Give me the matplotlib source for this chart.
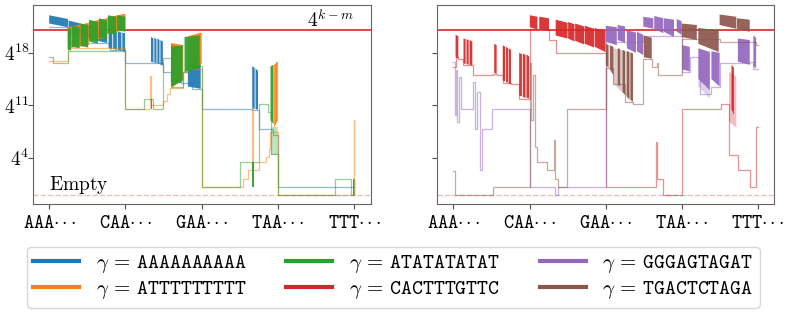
import numpy as np
import matplotlib.pyplot as plt
from matplotlib.lines import Line2D

plt.rcParams["mathtext.fontset"] = "cm"
plt.rcParams["font.family"] = "serif"

# x axis: position of the k-mer in lexicographic order (fraction of 4^k)
kmer_ticks = [0.0, 0.25, 0.5, 0.75, 1.0]
kmer_labels = ["AAA", "CAA", "GAA", "TAA", "TTT"]
ytick_log4 = [4, 11, 18]
km_level_log4 = 21      # 4^{k-m}
empty_level_log4 = -1   # "Empty"

# ---- values, all y given as log4 --------------------------------------------
# thin step lines: breakpoints (x, log4 value), steps-post
# dense blocks: (x0, x1, top0, top1, bottom0, bottom1)
# sparse blocks: same layout, teeth that only partly fill the area

a10_x = [0, 0.061, 0.20, 0.25, 0.334, 0.374, 0.40, 0.433, 0.467, 0.5, 0.666, 0.688, 0.734, 0.751, 1.0]
a10_e = [21.4, 19.3, 18.4, 16.6, 16.6, 15.5, 14.1, 14.0, 13.2, 10.5, 10.4, 7.9, 7.0, 0.05, 0.05]
a10_blocks = [
    (0.000, 0.062, 23.0, 22.5, 21.9, 21.4),
    (0.064, 0.190, 22.3, 21.0, 20.5, 19.3),
    (0.195, 0.207, 20.9, 20.8, 18.6, 18.5),
    (0.210, 0.222, 20.85, 20.75, 18.5, 18.4),
    (0.225, 0.237, 20.8, 20.7, 18.4, 18.3),
    (0.240, 0.249, 20.7, 20.6, 18.3, 18.1),
    (0.334, 0.342, 20.1, 19.9, 16.8, 16.7),
    (0.345, 0.352, 20.0, 19.8, 16.7, 16.6),
    (0.355, 0.362, 19.9, 19.7, 16.6, 16.5),
    (0.365, 0.373, 19.7, 19.5, 16.4, 16.3),
    (0.400, 0.410, 19.2, 19.0, 14.3, 14.2),
    (0.413, 0.422, 19.0, 18.8, 14.2, 14.1),
    (0.425, 0.433, 18.8, 18.6, 14.1, 14.0),
    (0.455, 0.497, 17.5, 17.2, 13.5, 13.2),
    (0.666, 0.674, 16.2, 16.0, 10.6, 10.5),
    (0.677, 0.685, 15.9, 15.6, 10.5, 10.4),
]
a10_sparse = []

at9_x = [0, 0.061, 0.25, 0.331, 0.334, 0.373, 0.385, 0.398, 0.44, 0.455, 0.5, 0.637, 0.652,
         0.665, 0.668, 0.689, 0.71, 0.72, 0.726, 0.75, 0.999, 1.0]
at9_e = [16.9, 18.6, 10.5, 14.9, 11.1, 11.6, 12.5, 13.3, 15.5, 15.8, 0.05, 1.2, 2.4,
         10.6, 2.4, 3.5, 4.1, 5.2, 7.5, -1, 9.0, -1]
at9_blocks = [
    (0.061, 0.130, 21.4, 22.0, 18.6, 19.0),
    (0.130, 0.190, 22.1, 22.6, 19.6, 20.0),
    (0.190, 0.250, 22.7, 23.2, 20.5, 21.0),
    (0.402, 0.440, 19.3, 19.0, 13.3, 14.5),
    (0.455, 0.500, 20.2, 20.7, 15.5, 16.5),
    (0.738, 0.750, 16.4, 16.9, 8.0, 9.0),
]
at9_sparse = []

atat_x = [0, 0.012, 0.061, 0.25, 0.31, 0.342, 0.373, 0.40, 0.44, 0.455, 0.5, 0.625, 0.689,
          0.718, 0.728, 0.75, 0.937, 0.99, 0.999, 1.0]
atat_e = [17.5, 16.7, 18.2, 10.5, 11.8, 10.5, 17.3, 13.5, 15.4, 16.2, 0.05, 3.4, 11.2,
          10.1, 4.5, -1, 1.2, -1, 1.2, -1]
atat_blocks = [
    (0.061, 0.072, 21.3, 21.2, 18.4, 18.3),
    (0.075, 0.100, 21.6, 21.4, 18.8, 18.6),
    (0.103, 0.128, 21.9, 21.7, 18.9, 18.7),
    (0.131, 0.160, 22.4, 22.1, 19.5, 19.2),
    (0.163, 0.190, 22.6, 22.3, 20.0, 19.8),
    (0.193, 0.220, 23.0, 22.8, 20.6, 20.4),
    (0.223, 0.250, 23.0, 22.8, 21.0, 20.8),
    (0.333, 0.338, 11.8, 11.8, 10.5, 10.5),
    (0.400, 0.438, 18.8, 19.0, 13.5, 14.2),
    (0.444, 0.494, 20.1, 20.3, 15.4, 16.0),
    (0.664, 0.671, 3.4, 3.4, 0.05, 0.05),
    (0.726, 0.736, 16.2, 16.4, 9.0, 8.5),
    (0.997, 1.000, 1.2, 1.2, -1, -1),
]
atat_sparse = [
    (0.728, 0.750, 8.1, 8.1, 4.4, 4.4),
]

cac_x = [0, 0.007, 0.016, 0.033, 0.063, 0.129, 0.134, 0.143, 0.162, 0.189, 0.216, 0.25, 0.314,
         0.336, 0.5, 0.666, 0.669, 0.69, 0.752, 0.881, 0.906, 0.935, 0.974, 0.996, 1.0]
cac_e = [16.1, 17.4, 17.2, 16.4, 15.0, 15.2, 15.2, 15.1, 14.0, 13.8, 11.9, 21.2, 19.7,
         18.0, 0.05, 6.1, 1.2, -1, 10.5, 11.2, 4.4, 2.4, 0.05, 8.1, 8.1]
cac_blocks = [
    (0.007, 0.016, 20.4, 20.2, 17.4, 17.2),
    (0.033, 0.040, 19.9, 19.8, 16.6, 16.5),
    (0.043, 0.050, 19.8, 19.7, 16.5, 16.4),
    (0.053, 0.062, 19.7, 19.5, 16.4, 16.3),
    (0.134, 0.142, 19.2, 19.0, 15.3, 15.2),
    (0.162, 0.170, 19.0, 18.8, 14.3, 14.2),
    (0.173, 0.180, 18.8, 18.6, 14.1, 14.0),
    (0.182, 0.189, 18.6, 18.4, 13.9, 13.8),
    (0.216, 0.225, 18.0, 17.8, 12.3, 12.2),
    (0.228, 0.237, 17.9, 17.7, 12.1, 12.0),
    (0.240, 0.249, 17.8, 17.5, 12.0, 11.9),
    (0.251, 0.276, 23.0, 22.8, 21.4, 21.1),
    (0.282, 0.314, 22.8, 22.6, 21.2, 20.9),
    (0.336, 0.375, 22.4, 22.0, 20.3, 19.9),
    (0.377, 0.398, 22.1, 21.8, 19.9, 19.5),
    (0.400, 0.430, 21.9, 21.5, 19.6, 19.1),
    (0.432, 0.462, 21.6, 21.2, 19.2, 18.7),
    (0.464, 0.500, 21.3, 20.9, 18.8, 18.1),
    (0.914, 0.922, 16.4, 16.0, 10.5, 9.7),
]
cac_sparse = [
    (0.906, 0.930, 15.5, 14.8, 8.8, 8.0),
]

ggg_x = [0, 0.004, 0.008, 0.013, 0.018, 0.025, 0.063, 0.070, 0.078, 0.087, 0.094, 0.126, 0.251,
         0.333, 0.344, 0.5, 0.624, 0.75, 0.777, 0.809, 0.848, 0.875, 0.935, 0.974, 0.986, 1.0]
ggg_e = [16.8, 9.7, 15.7, 8.8, 14.8, 10.5, 14.1, 7.9, 12.8, 2.4, 7.9, 10.5, 0.05,
         -1, 0.05, 19.5, 20.2, 15.5, 17.5, 12.5, 13.5, 16.6, 16.6, 16.8, 15.9, 15.9]
ggg_blocks = [
    (0.501, 0.537, 21.6, 21.4, 19.5, 19.0),
    (0.540, 0.564, 21.7, 21.5, 19.7, 19.3),
    (0.570, 0.600, 21.0, 20.7, 18.6, 18.0),
    (0.603, 0.624, 20.8, 20.4, 18.2, 17.7),
    (0.624, 0.657, 22.8, 22.6, 21.5, 21.2),
    (0.660, 0.690, 22.9, 22.6, 21.2, 20.6),
    (0.692, 0.725, 22.6, 22.4, 20.8, 20.1),
    (0.734, 0.750, 22.5, 22.2, 20.8, 20.4),
    (0.752, 0.777, 19.0, 18.8, 15.8, 15.5),
    (0.805, 0.843, 18.6, 18.1, 14.5, 13.0),
    (0.848, 0.875, 18.2, 18.0, 14.5, 13.5),
    (0.935, 0.974, 19.9, 19.7, 16.8, 16.4),
    (0.986, 0.995, 20.3, 20.0, 16.2, 15.9),
]
ggg_sparse = [
    (0.805, 0.843, 14.5, 13.0, 13.5, 11.9),
]

tga_x = [0, 0.006, 0.129, 0.251, 0.256, 0.262, 0.268, 0.273, 0.309, 0.332, 0.335, 0.344, 0.374,
         0.5, 0.526, 0.564, 0.591, 0.624, 0.652, 0.668, 0.673, 0.75, 0.875, 0.974, 0.996, 1.0]
tga_e = [2.3, -1, 0.05, 16.6, 9.0, 15.0, 5.5, 3.5, 2.4, 6.4, 1.2, 0.05, 10.5,
         16.0, 13.9, 11.5, 11.2, 17.2, 16.1, 16.6, 15.0, 19.8, 19.5, 19.5, 19.1, 19.1]
tga_blocks = [
    (0.501, 0.510, 19.2, 19.0, 16.4, 16.0),
    (0.514, 0.526, 19.0, 18.8, 15.8, 15.0),
    (0.540, 0.548, 18.6, 18.5, 13.8, 13.5),
    (0.556, 0.564, 18.4, 18.2, 12.8, 12.4),
    (0.570, 0.578, 18.2, 18.1, 12.2, 11.8),
    (0.582, 0.590, 18.0, 17.9, 11.8, 11.5),
    (0.626, 0.652, 20.3, 20.0, 17.4, 17.2),
    (0.750, 0.800, 21.9, 21.7, 20.1, 19.7),
    (0.805, 0.872, 21.3, 21.0, 19.2, 18.1),
    (0.875, 0.930, 23.1, 22.8, 21.7, 21.2),
    (0.932, 0.974, 22.6, 22.4, 21.2, 20.8),
]
tga_sparse = [
    (0.526, 0.591, 18.6, 18.0, 13.9, 11.2),
]

gammas = ["AAAAAAAAAA", "ATTTTTTTTT", "ATATATATAT", "CACTTTGTTC", "GGGAGTAGAT", "TGACTCTAGA"]
colors = ["#1f77b4", "#ff7f0e", "#2ca02c", "#d62728", "#9467bd", "#8c564b"]

left_series = [(a10_x, a10_e, a10_blocks, a10_sparse, colors[0]),
               (at9_x, at9_e, at9_blocks, at9_sparse, colors[1]),
               (atat_x, atat_e, atat_blocks, atat_sparse, colors[2])]
right_series = [(cac_x, cac_e, cac_blocks, cac_sparse, colors[3]),
                (ggg_x, ggg_e, ggg_blocks, ggg_sparse, colors[4]),
                (tga_x, tga_e, tga_blocks, tga_sparse, colors[5])]


def fill_blocks(ax, blocks, color, alpha):
    for x0, x1, t0, t1, b0, b1 in blocks:
        ax.fill([x0, x1, x1, x0], 4.0 ** np.array([t0, t1, b1, b0]),
                color=color, alpha=alpha, lw=0, zorder=2)


def draw_series(ax, x, e, blocks, sparse, color):
    ax.plot(x, 4.0 ** np.asarray(e), drawstyle="steps-post", color=color, lw=0.9, alpha=0.5, zorder=2)
    fill_blocks(ax, sparse, color, 0.3)
    fill_blocks(ax, blocks, color, 0.92)


fig = plt.figure(figsize=(7.93, 3.15), dpi=100)
ax1 = fig.add_axes([0.0416, 0.352, 0.426, 0.632])
ax2 = fig.add_axes([0.5515, 0.352, 0.425, 0.632])

for ax, series in [(ax1, left_series), (ax2, right_series)]:
    ax.axhline(4.0 ** km_level_log4, color="#e02424", lw=1.2, zorder=1.5)
    ax.axhline(4.0 ** empty_level_log4, color="#d62728", lw=1.0, ls="--", alpha=0.3, zorder=1.5)
    for x, e, blocks, sparse, c in series:
        draw_series(ax, x, e, blocks, sparse, c)
    ax.set_yscale("log", base=4)
    ax.set_ylim(4.0 ** -2.17, 4.0 ** 24.36)
    ax.set_xlim(-0.053, 1.055)
    ax.set_xticks(kmer_ticks)
    ax.set_xticklabels([r"$\mathtt{%s}{\cdot}\,{\cdot}\,{\cdot}$" % s for s in kmer_labels], fontsize=14)
    ax.set_yticks([4.0 ** v for v in ytick_log4])
    ax.yaxis.set_minor_locator(plt.NullLocator())
    ax.tick_params(length=3.5, color="0.3")
    ax.tick_params(axis="y", pad=-1)
    for sp in ax.spines.values():
        sp.set_color("0.4")

ax1.set_yticklabels([r"$4^{%d}$" % v for v in ytick_log4], fontsize=14)
ax2.set_yticklabels([])

ax1.text(1.0, 4.0 ** 21.45, r"$4^{k-m}$", ha="right", va="baseline", fontsize=14)
ax1.text(0.0, 4.0 ** -0.3, r"$\mathrm{Empty}$", ha="left", va="baseline", fontsize=14)

handles = [Line2D([], [], color=c, lw=3) for c in colors]
labels = [r"$\gamma\,=\,\mathtt{%s}$" % g for g in gammas]
fig.legend(handles, labels, loc="center", bbox_to_anchor=(0.496, 0.12), ncol=3,
           fontsize=15, handlelength=2.2, handletextpad=0.8, columnspacing=1.9,
           labelspacing=0.2, borderpad=0.3, edgecolor="0.8")

fig.savefig("out.png", dpi=100)
